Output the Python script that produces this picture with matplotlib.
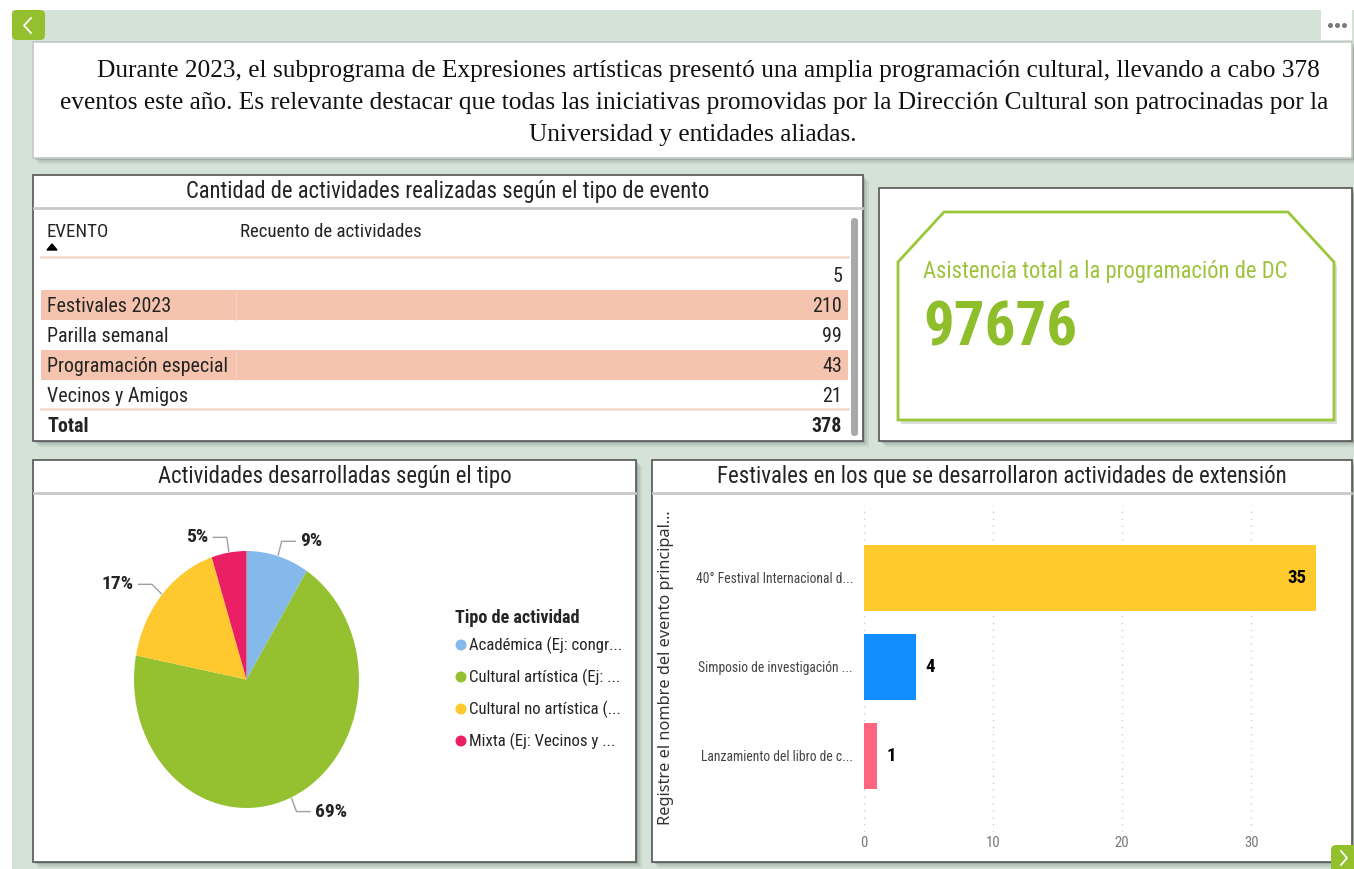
import matplotlib
matplotlib.use("Agg")
import matplotlib.pyplot as plt
import numpy as np
from matplotlib import font_manager
from matplotlib.patches import Rectangle, Polygon, Circle, FancyBboxPatch

W, H = 1354, 869

# ---------------- data ----------------
eventos = ["", "Festivales 2023", "Parilla semanal", "Programación especial", "Vecinos y Amigos"]
recuento = [5, 210, 99, 43, 21]

asistencia_titulo = "Asistencia total a la programación de DC"
asistencia_total = 97676

tipos = ["Académica (Ej: congr...", "Cultural artística (Ej: ...",
         "Cultural no artística (...", "Mixta (Ej: Vecinos y ..."]
tipos_pct = [9, 69, 17, 5]
tipos_colores = ["#85b8eb", "#95c131", "#fec92e", "#e91e63"]

festivales = ["40° Festival Internacional d...", "Simposio de investigación ...",
              "Lanzamiento del libro de c..."]
festivales_n = [35, 4, 1]
festivales_colores = ["#ffca2c", "#118dff", "#ff6480"]
x_ticks = [0, 10, 20, 30]

intro_lines = [
    "Durante 2023, el subprograma de Expresiones artísticas presentó una amplia programación "
    f"cultural, llevando a cabo {sum(recuento)}",
    "eventos este año. Es relevante destacar que todas las iniciativas promovidas por la "
    "Dirección Cultural son patrocinadas por la",
    "Universidad y entidades aliadas.",
]

# ---------------- fonts ----------------
installed = {f.name for f in font_manager.fontManager.ttflist}


def pick(*names):
    for n in names:
        if n in installed:
            return n
    return "DejaVu Sans"


COND = pick("Roboto Condensed", "Liberation Sans Narrow", "Open Sans Condensed", "Roboto")
UI = pick("Noto Sans", "Open Sans")
SERIF = pick("Liberation Serif", "DejaVu Serif")
DARK = "#252423"

fig = plt.figure(figsize=(W / 100, H / 100), dpi=100)
bg = fig.add_axes([0, 0, 1, 1])
bg.set_xlim(0, W)
bg.set_ylim(H, 0)
bg.axis("off")
renderer = fig.canvas.get_renderer()


def fit(t, size_px, vertical=False):
    # scale font so the text spans size_px pixels
    ext = t.get_window_extent(renderer)
    cur = ext.height if vertical else ext.width
    t.set_fontsize(t.get_fontsize() * size_px / cur)
    return t.get_fontsize()


def px_box(x0, y0, x1, y1):
    return [x0 / W, 1 - y1 / H, (x1 - x0) / W, (y1 - y0) / H]


def panel(x0, y0, x1, y1, edge="#555555", title=None, title_w=None):
    for k, a in [(6, 0.10), (4, 0.15), (2, 0.25)]:
        bg.add_patch(Rectangle((x0 + k, y0 + k), x1 - x0, y1 - y0, color="#5f6b62",
                               alpha=a, lw=0, zorder=1))
    bg.add_patch(Rectangle((x0, y0), x1 - x0, y1 - y0, facecolor="white",
                           edgecolor=edge, lw=1.2, zorder=2))
    if title:
        t = bg.text((x0 + x1) / 2, y0 + 23, title, ha="center", va="baseline",
                    family=COND, fontsize=14, color=DARK, zorder=4)
        fit(t, title_w)
        bg.plot([x0 + 1, x1 - 1], [y0 + 33, y0 + 33], color="#c9c9c9", lw=2, zorder=3)


# background
bg.add_patch(Rectangle((12, 10), W - 12, H - 10, color="#d4e2d8", lw=0, zorder=0))
bg.add_patch(Rectangle((1321, 10), 31, 30, color="white", lw=0, zorder=1))
bg.plot([1330, 1337, 1344], [25, 25, 25], "o", ms=2.6, color="#7a7a7a", zorder=2)

# nav buttons
bg.add_patch(FancyBboxPatch((12, 10), 33, 30, boxstyle="round,pad=0,rounding_size=5",
                            color="#93c02c", lw=0, zorder=5))
bg.plot([31, 24, 31], [18, 25.5, 33], color="white", lw=1.3, zorder=6)
bg.add_patch(FancyBboxPatch((1331, 845), 35, 35, boxstyle="round,pad=0,rounding_size=5",
                            color="#93c02c", lw=0, zorder=5))
bg.plot([1341, 1347, 1341], [851, 858, 865], color="white", lw=1.3, zorder=6)

# ---------------- intro text ----------------
panel(33, 42, 1352, 158, edge="#c7c7c7")
t2 = bg.text(694, 109, intro_lines[1], ha="center", va="baseline", family=SERIF,
             fontsize=20, color="#111111", zorder=4)
fs = fit(t2, 1268)
bg.text(97, 77, intro_lines[0], ha="left", va="baseline", family=SERIF, fontsize=fs,
        color="#111111", zorder=4)
bg.text(693, 141, intro_lines[2], ha="center", va="baseline", family=SERIF, fontsize=fs,
        color="#111111", zorder=4)

# ---------------- table ----------------
panel(33, 175, 863, 441, title="Cantidad de actividades realizadas según el tipo de evento",
      title_w=525)
rec = bg.text(240, 237, "Recuento de actividades", va="baseline", family=COND, fontsize=12,
              color=DARK, zorder=4)
hfs = fit(rec, 181)
bg.text(47, 237, "EVENTO", va="baseline", family=COND, fontsize=hfs, color=DARK, zorder=4)
bg.add_patch(Polygon([(47, 250), (57, 250), (52, 244)], color="black", zorder=4))
bg.plot([41, 848], [257, 257], color="#f7dcd0", lw=2, zorder=3)

row_y0, row_h = 275, 30
probe = bg.text(47, 0, eventos[3], family=COND, fontsize=12)
fs = fit(probe, 181)
probe.remove()
off = fs / 0.72 * 0.355
for i, (ev, n) in enumerate(zip(eventos, recuento)):
    y = row_y0 + i * row_h
    if i % 2 == 1:
        bg.add_patch(Rectangle((41, y - 15), 807, 30, color="#f4c4ae", lw=0, zorder=2.5))
        bg.plot([236, 236], [y - 15, y + 15], color="#f7d2c2", lw=1, zorder=2.6)
    bg.text(47, y + off, ev, va="baseline", family=COND, fontsize=fs, color=DARK, zorder=4)
    bg.text(842, y + off, str(n), ha="right", va="baseline", family=COND, fontsize=fs,
            color=DARK, zorder=4)
total_y = row_y0 + len(eventos) * row_h
bg.plot([41, 848], [total_y - 16, total_y - 16], color="#f7dcd0", lw=2, zorder=3)
bg.text(47, total_y + off, "Total", va="baseline", family=COND, fontsize=fs, weight="bold",
        color=DARK, zorder=4)
bg.text(842, total_y + off, str(sum(recuento)), ha="right", va="baseline", family=COND,
        fontsize=fs, weight="bold", color=DARK, zorder=4)
bg.add_patch(FancyBboxPatch((851, 218), 7, 218, boxstyle="round,pad=0,rounding_size=3.5",
                            color="#a9a9a9", lw=0, zorder=3))

# ---------------- KPI card ----------------
panel(879, 188, 1352, 441)
octa = [(898, 262), (944, 212), (1288, 212), (1334, 262), (1334, 420), (898, 420)]
bg.add_patch(Polygon([(x + 3, y + 4) for x, y in octa], color="#9aa59c", alpha=0.35, lw=0,
                     zorder=2.5))
bg.add_patch(Polygon(octa, closed=True, facecolor="white", edgecolor="#9bc83a", lw=2,
                     zorder=3))
lab = bg.text(923, 278, asistencia_titulo, va="baseline", family=COND, fontsize=14,
              color="#9dc33b", zorder=4)
fit(lab, 365)
num = bg.text(923, 345, f"{asistencia_total}", va="baseline", family=COND, fontsize=40,
              weight="bold", color="#8fbe2c", zorder=4)
fit(num, 154)

# ---------------- pie ----------------
panel(33, 460, 636, 862, title="Actividades desarrolladas según el tipo", title_w=356)
axp = fig.add_axes(px_box(134, 551, 359, 808))
wedges, _ = axp.pie(tipos_pct, colors=tipos_colores, startangle=90, counterclock=False,
                    wedgeprops=dict(linewidth=0))
axp.set_aspect("auto")
axp.set_xlim(-1, 1)
axp.set_ylim(-1, 1)
axp.axis("off")
pfs = None
for w, p in zip(wedges, tipos_pct):
    ang = np.deg2rad((w.theta1 + w.theta2) / 2)
    c, s = np.cos(ang), np.sin(ang)
    side = 1 if c >= 0 else -1
    hx = 1.12 * c + side * 0.12
    axp.plot([1.01 * c, 1.12 * c, hx], [1.01 * s, 1.12 * s, 1.12 * s], color="#a0a0a0",
             lw=1, clip_on=False)
    t = axp.text(hx + side * 0.04, 1.12 * s, f"{p}%", ha="left" if side > 0 else "right",
                 va="center", family=COND, weight="bold", fontsize=12, color=DARK)
    if pfs is None and p == 17:
        pfs = fit(t, 32)
for t in axp.texts:
    t.set_fontsize(pfs)

lt = bg.text(455, 623, "Tipo de actividad", va="baseline", family=COND, weight="bold",
             fontsize=12, color=DARK, zorder=4)
fit(lt, 125)
lfs = None
for i, (name, col) in enumerate(zip(tipos, tipos_colores)):
    y = 645 + i * 32
    bg.add_patch(Circle((461, y), 5.5, color=col, lw=0, zorder=4))
    t = bg.text(469, y, name, va="center", family=COND, fontsize=11, color=DARK, zorder=4)
    if i == 0:
        lfs = fit(t, 153)
    else:
        t.set_fontsize(lfs)

# ---------------- bar chart ----------------
panel(652, 460, 1352, 862,
      title="Festivales en los que se desarrollaron actividades de extensión", title_w=574)
axb = fig.add_axes(px_box(864, 505, 1330, 832))
axb.set_facecolor("none")
pos = list(range(len(festivales)))
axb.barh(pos, festivales_n, height=0.74, color=festivales_colores)
axb.set_xlim(0, 36.1)
axb.set_ylim(2.854, -0.82)
axb.set_yticks(pos, festivales)
axb.set_xticks(x_ticks)
axb.tick_params(length=0)
axb.tick_params(axis="x", labelcolor="#777777", labelsize=10.5, pad=3)
axb.tick_params(axis="y", labelcolor="#444444", labelsize=8, pad=8)
for lbl in axb.get_yticklabels() + axb.get_xticklabels():
    lbl.set_family(COND)
axb.grid(axis="x", color="#cfcfcf", linestyle=(0, (1, 4)), lw=1)
axb.grid(axis="y", visible=False)
axb.set_axisbelow(True)
for sp in axb.spines.values():
    sp.set_visible(False)
vfs = None
for i, v in enumerate(festivales_n):
    inside = v > 10
    t = axb.annotate(str(v), (v, i), xytext=(-7 if inside else 7, 0),
                     textcoords="offset points", ha="right" if inside else "left",
                     va="center", family=COND, weight="bold", fontsize=12, color="black")
    if inside:
        vfs = fit(t, 19)
for t in axb.texts:
    t.set_fontsize(vfs)

fig.canvas.draw()
yfs = fit(axb.get_yticklabels()[0], 158)
axb.tick_params(axis="y", labelsize=yfs)

yt = bg.text(666, 668, "Registre el nombre del evento principal...", rotation=90,
             ha="center", va="center", family=UI, fontsize=11, color="#333333", zorder=4)
fit(yt, 316, vertical=True)

fig.savefig("out.png", dpi=100)
